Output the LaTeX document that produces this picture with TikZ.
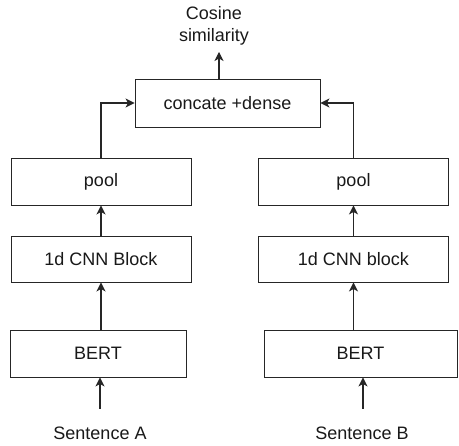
\documentclass[tikz,border=0pt]{standalone}
\usepackage{fontspec}
\setmainfont{Liberation Sans}
\usetikzlibrary{arrows.meta}
\begin{document}
\begin{tikzpicture}[x=1pt,y=-1pt,
  box/.style={draw=black!85, line width=0.9pt, fill=white, inner sep=0pt, font=\fontsize{18}{20}\selectfont, text=black!90},
  lbl/.style={inner sep=0pt, font=\fontsize{18}{22}\selectfont, text=black!90, align=center},
  arr/.style={draw=black!85, line width=1.1pt, -{Stealth[length=9pt,width=9pt,inset=2.5pt]}},
  thick arr/.style={arr, line width=1.8pt}]
\useasboundingbox (0,0) rectangle (459,446);
\fill[white] (0,0) rectangle (459,446);
% boxes
\node[box, minimum width=185pt, minimum height=48pt] (concat) at (227.5,103) {concate +dense};
\node[box, minimum width=180pt, minimum height=47pt] (poolA) at (101,181.5) {pool};
\node[box, minimum width=180pt, minimum height=46pt] (cnnA) at (101,259) {1d CNN Block};
\node[box, minimum width=176pt, minimum height=47pt] (bertA) at (98,353.5) {BERT};
\node[box, minimum width=190pt, minimum height=47pt] (poolB) at (353.5,181.5) {pool};
\node[box, minimum width=190pt, minimum height=46pt] (cnnB) at (353.5,259) {1d CNN block};
\node[box, minimum width=193pt, minimum height=47pt] (bertB) at (360.5,353.5) {BERT};
% labels
\node[lbl] (cos) at (214,26) {Cosine\\similarity};
\node[lbl] (sa) at (100,433) {Sentence A};
\node[lbl] (sb) at (362,433) {Sentence B};
\coordinate (cosBot) at (219,52);
\coordinate (saTop) at (100,409);
\coordinate (sbTop) at (363,409);
% connectors
\draw[arr] (concat.north -| cosBot) -- (cosBot);
\draw[arr] (poolA.north) |- (concat.west);
\draw[arr] (poolB.north) |- (concat.east);
\draw[thick arr] (cnnA.north) -- (poolA.south);
\draw[thick arr] (bertA.north -| cnnA.south) -- (cnnA.south);
\draw[arr] (cnnB.north) -- (poolB.south);
\draw[arr] (bertB.north -| cnnB.south) -- (cnnB.south);
\draw[arr] (saTop) -- (bertA.south -| saTop);
\draw[arr] (sbTop) -- (bertB.south -| sbTop);
\end{tikzpicture}
\end{document}
